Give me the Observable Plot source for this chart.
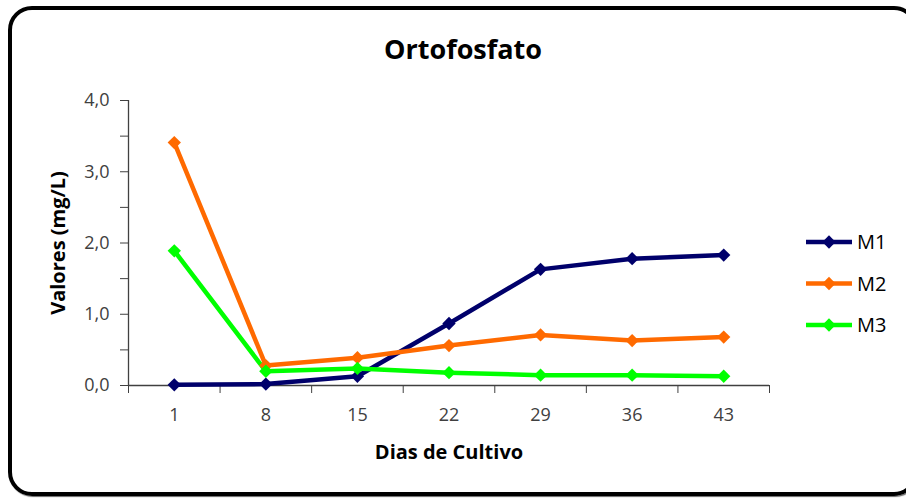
<!DOCTYPE html>
<html>
<head>
<meta charset="utf-8">
<script src="https://cdn.jsdelivr.net/npm/d3@7"></script>
<script src="https://cdn.jsdelivr.net/npm/@observablehq/plot@0.6"></script>
<style>
  html, body { margin: 0; padding: 0; background: #fff; }
  #wrap { position: relative; width: 906px; height: 498px; overflow: hidden; font-family: "Open Sans", sans-serif; }
  #frame { position: absolute; left: 8px; top: 6px; width: 910px; height: 490px; border: 4px solid #000; border-radius: 24px; box-sizing: border-box; box-shadow: 1px 1px 1px rgba(0,0,0,0.6); }
  #title { position: absolute; left: 0; width: 926px; top: 30px; text-align: center; font-weight: bold; font-size: 27px; color: #000; }
  #chart { position: absolute; left: 0; top: 0; }
  #legend { position: absolute; left: 0; top: 0; }
</style>
</head>
<body>
<div id="wrap">
  <div id="frame"></div>
  <div id="title">Ortofosfato</div>
  <div id="chart"></div>
  <svg id="legend" width="906" height="498"></svg>
</div>
<script>
// Data
const days = [1, 8, 15, 22, 29, 36, 43];
const seriesNames = ["M1", "M2", "M3"];
const seriesColors = ["#00006B", "#FF6A00", "#00FF00"];
const m1 = [0.01, 0.02, 0.13, 0.87, 1.63, 1.78, 1.83];
const m2 = [3.41, 0.28, 0.39, 0.56, 0.71, 0.63, 0.68];
const m3 = [1.89, 0.20, 0.24, 0.18, 0.145, 0.145, 0.13];
const yTicks = [0, 1, 2, 3, 4];
const yMinorTicks = [0.5, 1.5, 2.5, 3.5];
const xTitle = "Dias de Cultivo";
const yTitle = "Valores (mg/L)";

const seriesValues = [m1, m2, m3];
const data = [];
seriesNames.forEach((name, i) => {
  days.forEach((d, j) => data.push({series: name, day: d, value: seriesValues[i][j]}));
});

// category boundaries (half a step either side of each day)
const step = days[1] - days[0];
const bounds = [days[0] - step / 2, ...days.map(d => d + step / 2)];

const fmt = v => v.toFixed(1).replace(".", ",");

const chart = Plot.plot({
  width: 906,
  height: 498,
  marginLeft: 128,
  marginRight: 137,
  marginTop: 100,
  marginBottom: 113,
  style: {fontFamily: "'Open Sans', sans-serif", background: "transparent", overflow: "visible"},
  x: {type: "linear", domain: [bounds[0], bounds[bounds.length - 1]]},
  y: {domain: [0, 4]},
  color: {domain: seriesNames, range: seriesColors},
  marks: [
    Plot.axisY({ticks: yTicks, tickFormat: fmt, tickSize: 8, tickPadding: 11, fontSize: 18, label: null, color: "#404040", stroke: "#404040"}),
    Plot.axisY({ticks: yMinorTicks, tickFormat: () => "", tickSize: 8, label: null, stroke: "#404040"}),
    Plot.axisX({ticks: bounds, tickFormat: () => "", tickSize: 8, label: null, stroke: "#404040"}),
    Plot.axisX({ticks: days, tickFormat: d => String(d), tickSize: 0, tickPadding: 23, fontSize: 18, label: null, color: "#404040"}),
    Plot.ruleX([bounds[0]], {stroke: "#404040", strokeWidth: 1.3}),
    Plot.ruleY([0], {stroke: "#404040", strokeWidth: 1.3}),
    Plot.line(data, {x: "day", y: "value", z: "series", stroke: "series", strokeWidth: 4.5}),
    Plot.dot(data, {x: "day", y: "value", fill: "series", symbol: "diamond2", r: 6}),
    Plot.text([xTitle], {frameAnchor: "bottom", dy: 67, fontSize: 20, fontWeight: "bold", fill: "#000", textAnchor: "middle", lineAnchor: "middle"}),
    Plot.text([yTitle], {frameAnchor: "left", dx: -70, rotate: -90, fontSize: 20, fontWeight: "bold", fill: "#000", textAnchor: "middle", lineAnchor: "middle"})
  ]
});
document.getElementById("chart").appendChild(chart);

// Legend
const lg = d3.select("#legend");
const legendY0 = 242, legendGap = 41.5;
seriesNames.forEach((name, i) => {
  const y = legendY0 + i * legendGap;
  lg.append("line").attr("x1", 806).attr("x2", 852).attr("y1", y).attr("y2", y)
    .attr("stroke", seriesColors[i]).attr("stroke-width", 4.5);
  lg.append("path").attr("d", d3.symbol(d3.symbolDiamond2, Math.PI * 6 * 6)())
    .attr("transform", `translate(829,${y})`).attr("fill", seriesColors[i]);
  lg.append("text").attr("x", 857).attr("y", y).attr("dy", "0.36em")
    .attr("font-size", 20).attr("font-family", "'Open Sans', sans-serif").attr("fill", "#000").text(name);
});
</script>
</body>
</html>
